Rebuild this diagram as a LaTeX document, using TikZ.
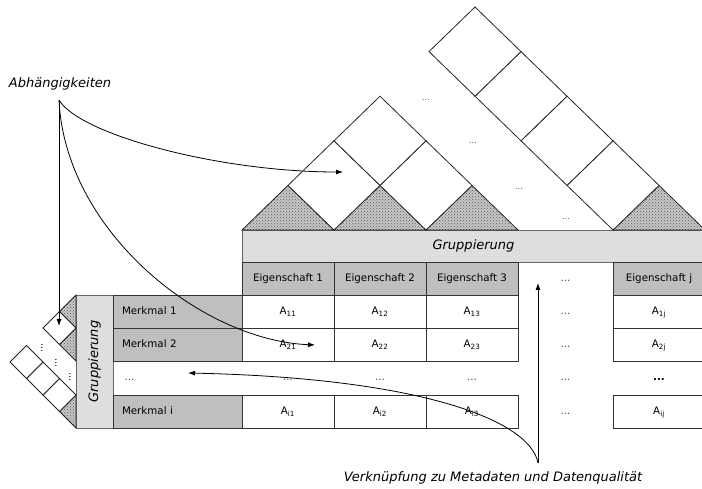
\documentclass[tikz,border=0pt]{standalone}
\usepackage{fontspec}
\setmainfont{DejaVu Sans}
\usetikzlibrary{arrows.meta,patterns}

\begin{document}
\begin{tikzpicture}[x=1pt, y=-1pt, line width=0.8pt,
    >={Latex[length=7pt,width=5pt]},
    cell/.style={draw=black!80, fill=white, minimum width=92pt, minimum height=33pt,
        inner sep=0pt, text height=7.5pt, text depth=2pt, font=\fontsize{10.3}{12}\selectfont},
    headcell/.style={cell, fill=black!25},
    gapcell/.style={cell, draw=none, fill=none, text=black!70},
    rowname/.style={cell, fill=black!25, minimum width=129pt, text width=111pt, align=left},
    groupbar/.style={draw=black!60, fill=black!13, inner sep=0pt, font=\fontsize{13}{15}\selectfont\itshape},
    note/.style={font=\fontsize{13}{15}\selectfont\itshape, inner sep=1pt},
    tri/.style={draw=black!85, preaction={fill=black!22}, pattern=crosshatch dots, pattern color=black!65},
    sq/.style={draw=black!85, fill=white},
    ellip/.style={font=\fontsize{8}{10}\selectfont, text=black!70, inner sep=0pt},
    vdot/.style={font=\fontsize{9.5}{10}\selectfont, inner sep=0pt, rotate=-90}]

    \useasboundingbox (0,0) rectangle (702,489);
    \clip (0,0) rectangle (702,489);

    % Grouping bars
    \node[groupbar, minimum width=463pt, minimum height=32pt] (grptop) at (473.5,246) {Gruppierung};
    \node[groupbar, minimum width=133pt, minimum height=37pt, rotate=90] (grpleft) at (94.5,361.5) {Gruppierung};

    % Dependencies between properties (top)
    \foreach \c in {288,380,472,659}
        \draw[tri] (\c-46,230) -- (\c,185.4) -- (\c+46,230) -- cycle;
    \foreach \c/\r in {334/185.4, 426/185.4, 380/140.8, 613/185.4, 567/140.8, 521/96.2, 475/51.6}
        \draw[sq] (\c-46,\r) -- (\c,\r-44.6) -- (\c+46,\r) -- (\c,\r+44.6) -- cycle;
    \node[ellip] at (426,100) {...};
    \node[ellip] at (473,143) {...};
    \node[ellip] at (519,189) {...};
    \node[ellip] at (566,219) {...};

    % Dependencies between features (left)
    \foreach \r in {311.5,344.5,411.5}
        \draw[tri] (76,\r-16.5) -- (59.5,\r) -- (76,\r+16.5) -- cycle;
    \foreach \c/\r in {59.5/328, 59.5/395, 43/378.5, 26.5/362}
        \draw[sq] (\c-16.5,\r) -- (\c,\r-16.5) -- (\c+16.5,\r) -- (\c,\r+16.5) -- cycle;
    \node[vdot] at (42,348) {...};
    \node[vdot] at (56,363) {...};
    \node[vdot] at (70,377) {...};

    % Header row
    \node[headcell] (e1) at (288,278.5) {Eigenschaft 1};
    \node[headcell] (e2) at (380,278.5) {Eigenschaft 2};
    \node[headcell] (e3) at (472,278.5) {Eigenschaft 3};
    \node[gapcell] (eg) at (565.5,278.5) {...};
    \node[headcell] (ej) at (659,278.5) {Eigenschaft j};

    % Row 1
    \node[rowname] (m1) at (177.5,311.5) {Merkmal 1};
    \node[cell] (a11) at (288,311.5) {A\textsubscript{11}};
    \node[cell] (a12) at (380,311.5) {A\textsubscript{12}};
    \node[cell] (a13) at (472,311.5) {A\textsubscript{13}};
    \node[gapcell] (a1g) at (565.5,311.5) {...};
    \node[cell] (a1j) at (659,311.5) {A\textsubscript{1j}};

    % Row 2
    \node[rowname] (m2) at (177.5,344.5) {Merkmal 2};
    \node[cell] (a21) at (288,344.5) {A\textsubscript{21}};
    \node[cell] (a22) at (380,344.5) {A\textsubscript{22}};
    \node[cell] (a23) at (472,344.5) {A\textsubscript{23}};
    \node[gapcell] (a2g) at (565.5,344.5) {...};
    \node[cell] (a2j) at (659,344.5) {A\textsubscript{2j}};

    % Skipped rows
    \node[rowname, draw=none, fill=none, text=black!70] (md) at (180,378) {...};
    \node[gapcell] (ad1) at (288,378) {...};
    \node[gapcell] (ad2) at (380,378) {...};
    \node[gapcell] (ad3) at (472,378) {...};
    \node[gapcell] (adg) at (565.5,378) {...};
    \node[gapcell, text=black] (adj) at (659,378) {\textbf{...}};

    % Row i
    \node[rowname] (mi) at (177.5,411.5) {Merkmal i};
    \node[cell] (ai1) at (288,411.5) {A\textsubscript{i1}};
    \node[cell] (ai2) at (380,411.5) {A\textsubscript{i2}};
    \node[cell] (ai3) at (472,411.5) {A\textsubscript{i3}};
    \node[gapcell] (aig) at (565.5,411.5) {...};
    \node[cell] (aij) at (659,411.5) {A\textsubscript{ij}};

    % Labels
    \node[note] (abh) at (60,84) {Abhängigkeiten};
    \node[note] (vk) at (493,478) {Verknüpfung zu Metadaten und Datenqualität};
    \coordinate (abhfoot) at (59,100);
    \coordinate (vkfoot) at (538,463);
    \coordinate (sqleft) at (59,326);
    \coordinate (sqtop) at (343,172);
    \coordinate (a21tip) at (315,345);
    \coordinate (gaptip) at (538,283);
    \coordinate (dotstip) at (188,373);

    % Arrows
    \draw[->] (abhfoot) -- (sqleft);
    \draw[->] (abhfoot) .. controls (80,135) and (220,172) .. (sqtop);
    \draw[->] (abhfoot) .. controls (65,230) and (200,340) .. (a21tip);
    \draw[->] (vkfoot) -- (gaptip);
    \draw[->] (vkfoot) .. controls (530,420) and (420,378) .. (dotstip);
\end{tikzpicture}
\end{document}
